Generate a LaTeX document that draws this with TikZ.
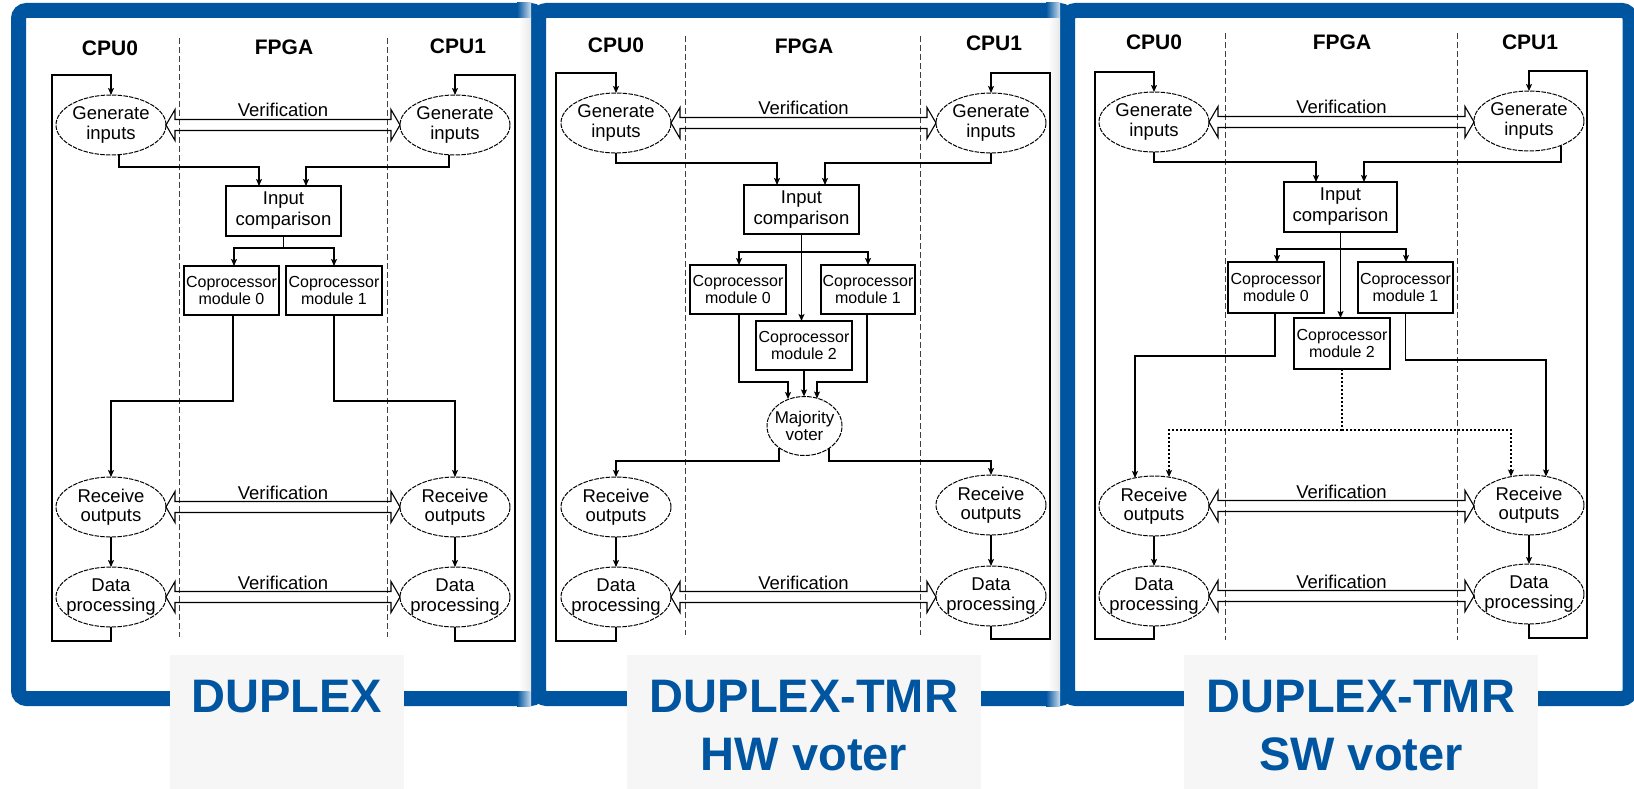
\documentclass[tikz,border=0pt]{standalone}
\usepackage{fontspec}
\setmainfont{Liberation Sans}
\usetikzlibrary{arrows.meta,calc,shapes.geometric}
\definecolor{pblue}{RGB}{0,85,160}
\definecolor{lboxc}{RGB}{246,246,246}
\tikzset{
 ln/.style={line width=1.1pt, draw=black},
 arr/.style={ln, -{Stealth[length=7pt,width=6pt,inset=1.5pt]}},
 dotl/.style={ln, dash pattern=on 2pt off 2pt},
 darr/.style={arr, dash pattern=on 2pt off 2pt},
 ell/.style={ellipse, draw, line width=1pt, dash pattern=on 4.5pt off 1.2pt, minimum width=110pt, minimum height=60pt, inner sep=0pt, outer sep=0pt, fill=white},
 ellt/.style={align=center, inner sep=0pt, font=\fontsize{18.5}{19.5}\selectfont},
 vott/.style={align=center, inner sep=0pt, font=\fontsize{17}{17}\selectfont},
 bx/.style={draw, line width=1.1pt, inner sep=0pt, outer sep=0pt, align=center, font=\fontsize{18.5}{21}\selectfont, fill=white},
 cbx/.style={bx, font=\fontsize{16}{17}\selectfont},
 hdr/.style={font=\fontsize{21}{21}\bfseries\selectfont, inner sep=0pt},
 vt/.style={font=\fontsize{18.5}{19.5}\selectfont, inner sep=0pt},
 sep/.style={line width=0.9pt, draw=black!75, dash pattern=on 6pt off 3pt},
 hol/.style={line width=1.1pt, draw=black, line join=miter},
 frm/.style={draw=pblue, line width=15pt, fill=white, rounded corners=8pt},
 lbox/.style={fill=lboxc, draw=none, inner sep=0pt, anchor=north west},
 ltxt/.style={text=pblue, font=\fontsize{47}{47}\bfseries\selectfont, inner sep=0pt, anchor=base},
}
\newcommand\verif[3]{%
  \draw[hol] let \p1=(#1.east), \p2=(#2.west) in
    (\x1,\y1) -- (\x1+9pt,\y1+15.5pt) -- (\x1+9pt,\y1+5.5pt) -- (\x2-9pt,\y1+5.5pt) -- (\x2-9pt,\y1+15.5pt) -- (\x2,\y1)
    -- (\x2-9pt,\y1-15.5pt) -- (\x2-9pt,\y1-5.5pt) -- (\x1+9pt,\y1-5.5pt) -- (\x1+9pt,\y1-15.5pt) -- cycle;
  \path let \p1=(#1.east), \p2=(#2.west) in node[vt, anchor=base] (#3) at ({(\x1+\x2)/2},\y1+8pt) {Verification};
}
\begin{document}
\begin{tikzpicture}[x=1pt,y=-1pt]
\useasboundingbox (0,0) rectangle (1634,789);
\fill[white] (0,0) rectangle (1634,789);
% frames
\draw[frm] (18.5,10.5) rectangle (538.5,698.5);
\draw[frm] (538.5,10.5) rectangle (1067.5,698.5);
\draw[frm] (1067.5,10.5) rectangle (1630,698.5);
\shade[left color=white, right color=black!9] (519,18) rectangle (531,691);
\shade[left color=pblue, right color=pblue!20!white] (517,3) rectangle (531,18);
\shade[left color=pblue, right color=pblue!20!white] (517,691) rectangle (531,706);
\shade[left color=white, right color=black!9] (1048,18) rectangle (1060,691);
\shade[left color=pblue, right color=pblue!20!white] (1046,3) rectangle (1060,18);
\shade[left color=pblue, right color=pblue!20!white] (1046,691) rectangle (1060,706);

% ================= Panel 1 =================
\node[hdr] (p1h0) at (110,48) {CPU0};
\node[hdr] (p1hf) at (284,47) {FPGA};
\node[hdr] (p1h1) at (458,46) {CPU1};
\coordinate (p1s0t) at (179,38); \coordinate (p1s0b) at (179,637);
\coordinate (p1s1t) at (387,38); \coordinate (p1s1b) at (387,637);
\draw[sep] (p1s0t) -- (p1s0b);
\draw[sep] (p1s1t) -- (p1s1b);
\node[ell] (p1gL) at (111,125) {}; \node[ellt] (p1gLt) at (p1gL) {Generate\\inputs};
\node[ell] (p1gR) at (455,125) {}; \node[ellt] (p1gRt) at (p1gR) {Generate\\inputs};
\node[bx, minimum width=115pt, minimum height=50pt] (p1ic) at (283.5,211) {Input\\comparison};
\node[cbx, minimum width=95pt, minimum height=49pt] (p1c0) at (231.5,290.5) {Coprocessor\\module 0};
\node[cbx, minimum width=96pt, minimum height=49pt] (p1c1) at (334,290.5) {Coprocessor\\module 1};
\node[ell] (p1rL) at (111,507) {}; \node[ellt] (p1rLt) at (p1rL) {Receive\\outputs};
\node[ell] (p1rR) at (455,507) {}; \node[ellt] (p1rRt) at (p1rR) {Receive\\outputs};
\node[ell] (p1dL) at (111,597) {}; \node[ellt] (p1dLt) at (p1dL) {Data\\processing};
\node[ell] (p1dR) at (455,597) {}; \node[ellt] (p1dRt) at (p1dR) {Data\\processing};
\coordinate (p1lb) at (52,641); \coordinate (p1lt) at (52,75);
\coordinate (p1rb) at (515,641); \coordinate (p1rt) at (515,75);
\draw[arr] (p1dL.south) |- (p1lb) -- (p1lt) -| (p1gL.north);
\draw[arr] (p1dR.south) |- (p1rb) -- (p1rt) -| (p1gR.north);
\draw[arr] ($(p1gL.south)+(8,0)$) -- ++(0,12) -| ($(p1ic.north)+(-24.5,0)$);
\draw[arr] ($(p1gR.south)+(-6,0)$) -- ++(0,12) -| ($(p1ic.north)+(22.5,0)$);
\draw[arr] (p1ic.south) -- ++(0,12) -| ($(p1c0.north)+(2.5,0)$);
\draw[arr] (p1ic.south) -- ++(0,12) -| (p1c1.north);
\draw[arr] ($(p1c0.south)+(1.5,0)$) -- ++(0,86) -| (p1rL.north);
\draw[arr] (p1c1.south) -- ++(0,86) -| (p1rR.north);
\draw[arr] (p1rL.south) -- (p1dL.north);
\draw[arr] (p1rR.south) -- (p1dR.north);
\verif{p1gL}{p1gR}{p1v1}
\verif{p1rL}{p1rR}{p1v2}
\verif{p1dL}{p1dR}{p1v3}

% ================= Panel 2 =================
\node[hdr] (p2h0) at (616,45) {CPU0};
\node[hdr] (p2hf) at (804,46) {FPGA};
\node[hdr] (p2h1) at (994,43) {CPU1};
\coordinate (p2s0t) at (685,36); \coordinate (p2s0b) at (685,635);
\coordinate (p2s1t) at (920,36); \coordinate (p2s1b) at (920,635);
\draw[sep] (p2s0t) -- (p2s0b);
\draw[sep] (p2s1t) -- (p2s1b);
\node[ell] (p2gL) at (616,123) {}; \node[ellt] (p2gLt) at (p2gL) {Generate\\inputs};
\node[ell] (p2gR) at (991,123) {}; \node[ellt] (p2gRt) at (p2gR) {Generate\\inputs};
\node[bx, minimum width=115pt, minimum height=49pt] (p2ic) at (801.5,209.5) {Input\\comparison};
\node[cbx, minimum width=96pt, minimum height=49pt] (p2c0) at (738,289.5) {Coprocessor\\module 0};
\node[cbx, minimum width=94pt, minimum height=49pt] (p2c1) at (868,289.5) {Coprocessor\\module 1};
\node[cbx, minimum width=96pt, minimum height=49pt] (p2c2) at (804,345.5) {Coprocessor\\module 2};
\node[ell, minimum width=75pt, minimum height=59pt] (p2mv) at (804.5,426) {}; \node[vott] (p2mvt) at (p2mv) {Majority\\voter};
\node[ell] (p2rL) at (616,507) {}; \node[ellt] (p2rLt) at (p2rL) {Receive\\outputs};
\node[ell] (p2rR) at (991,505) {}; \node[ellt] (p2rRt) at (p2rR) {Receive\\outputs};
\node[ell] (p2dL) at (616,597) {}; \node[ellt] (p2dLt) at (p2dL) {Data\\processing};
\node[ell] (p2dR) at (991,596) {}; \node[ellt] (p2dRt) at (p2dR) {Data\\processing};
\coordinate (p2lb) at (556,641); \coordinate (p2lt) at (556,73);
\coordinate (p2rb) at (1050,639); \coordinate (p2rt) at (1050,73);
\draw[arr] (p2dL.south) |- (p2lb) -- (p2lt) -| (p2gL.north);
\draw[arr] (p2dR.south) |- (p2rb) -- (p2rt) -| (p2gR.north);
\draw[arr] (p2gL.south) -- ++(0,10) -| ($(p2ic.north)+(-24.5,0)$);
\draw[arr] (p2gR.south) -- ++(0,10) -| ($(p2ic.north)+(23.5,0)$);
\draw[arr] (p2ic.south) -- ++(0,18) -| ($(p2c0.north)+(1,0)$);
\draw[arr] (p2ic.south) -- ++(0,18) -| (p2c1.north);
\draw[arr] (p2ic.south) -- (p2ic.south |- p2c2.north);
\draw[arr] ($(p2c0.south)+(1,0)$) -- ++(0,68) -| ($(p2mv.center)+(-16.5,-27)$);
\draw[arr] (p2c2.south) -- (p2c2.south |- p2mv.north);
\draw[arr] ($(p2c1.south)+(-1,0)$) -- ++(0,68) -| ($(p2mv.center)+(12.5,-27.5)$);
\draw[arr] ($(p2mv.center)+(-25.5,22)$) -- ++(0,13) -| (p2rL.north);
\draw[arr] ($(p2mv.center)+(24.5,22)$) -- ++(0,13) -| (p2rR.north);
\draw[arr] (p2rL.south) -- (p2dL.north);
\draw[arr] (p2rR.south) -- (p2dR.north);
\verif{p2gL}{p2gR}{p2v1}
\verif{p2dL}{p2dR}{p2v3}

% ================= Panel 3 =================
\node[hdr] (p3h0) at (1154,42) {CPU0};
\node[hdr] (p3hf) at (1342,42) {FPGA};
\node[hdr] (p3h1) at (1530,42) {CPU1};
\coordinate (p3s0t) at (1225,33); \coordinate (p3s0b) at (1225,640);
\coordinate (p3s1t) at (1457,33); \coordinate (p3s1b) at (1457,640);
\draw[sep] (p3s0t) -- (p3s0b);
\draw[sep] (p3s1t) -- (p3s1b);
\node[ell] (p3gL) at (1154,122) {}; \node[ellt] (p3gLt) at (p3gL) {Generate\\inputs};
\node[ell] (p3gR) at (1529,121) {}; \node[ellt] (p3gRt) at (p3gR) {Generate\\inputs};
\node[bx, minimum width=113pt, minimum height=50pt] (p3ic) at (1340.5,207) {Input\\comparison};
\node[cbx, minimum width=96pt, minimum height=51pt] (p3c0) at (1276,287.5) {Coprocessor\\module 0};
\node[cbx, minimum width=95pt, minimum height=51pt] (p3c1) at (1405.5,287.5) {Coprocessor\\module 1};
\node[cbx, minimum width=96pt, minimum height=51pt] (p3c2) at (1342,343.5) {Coprocessor\\module 2};
\node[ell] (p3rL) at (1154,506) {}; \node[ellt] (p3rLt) at (p3rL) {Receive\\outputs};
\node[ell] (p3rR) at (1529,505) {}; \node[ellt] (p3rRt) at (p3rR) {Receive\\outputs};
\node[ell] (p3dL) at (1154,596) {}; \node[ellt] (p3dLt) at (p3dL) {Data\\processing};
\node[ell] (p3dR) at (1529,594) {}; \node[ellt] (p3dRt) at (p3dR) {Data\\processing};
\coordinate (p3lb) at (1095,639); \coordinate (p3lt) at (1095,72);
\coordinate (p3rb) at (1587,638); \coordinate (p3rt) at (1587,71);
\draw[arr] (p3dL.south) |- (p3lb) -- (p3lt) -| (p3gL.north);
\draw[arr] (p3dR.south) |- (p3rb) -- (p3rt) -| (p3gR.north);
\draw[arr] (p3gL.south) -- ++(0,10) -| ($(p3ic.north)+(-24.5,0)$);
\draw[arr] ($(p3gR.center)+(32,25)$) -- ++(0,16) -| ($(p3ic.north)+(23.5,0)$);
\draw[arr] (p3ic.south) -- ++(0,17) -| ($(p3c0.north)+(1,0)$);
\draw[arr] (p3ic.south) -- ++(0,17) -| ($(p3c1.north)+(0.5,0)$);
\draw[arr] (p3ic.south) -- (p3ic.south |- p3c2.north);
\draw[arr] ($(p3c0.south)+(-1,0)$) -- ++(0,43) -| ($(p3rL.center)+(-19,-28)$);
\draw[arr] (p3c1.south) -- ++(0,47) -| ($(p3rR.center)+(17,-28.5)$);
\draw[dotl] (p3c2.south) -- ++(0,61) coordinate (p3dj);
\draw[darr] (p3dj) -| ($(p3rL.center)+(15,-29)$);
\draw[darr] (p3dj) -| ($(p3rR.center)+(-18,-28.5)$);
\draw[arr] (p3rL.south) -- (p3dL.north);
\draw[arr] (p3rR.south) -- (p3dR.north);
\verif{p3gL}{p3gR}{p3v1}
\verif{p3rL}{p3rR}{p3v2}
\verif{p3dL}{p3dR}{p3v3}

% ================= Labels =================
\node[lbox, minimum width=234pt, minimum height=134pt] (b1) at (170,655) {};
\node[lbox, minimum width=354pt, minimum height=134pt] (b2) at (627,655) {};
\node[lbox, minimum width=354pt, minimum height=134pt] (b3) at (1184,655) {};
\node[ltxt] (b1t) at (287,712) {DUPLEX};
\node[ltxt] (b2t) at (804,712) {DUPLEX-TMR};
\node[ltxt] (b2u) at (804,770) {HW voter};
\node[ltxt] (b3t) at (1361,712) {DUPLEX-TMR};
\node[ltxt] (b3u) at (1361,770) {SW voter};
\end{tikzpicture}
\end{document}
